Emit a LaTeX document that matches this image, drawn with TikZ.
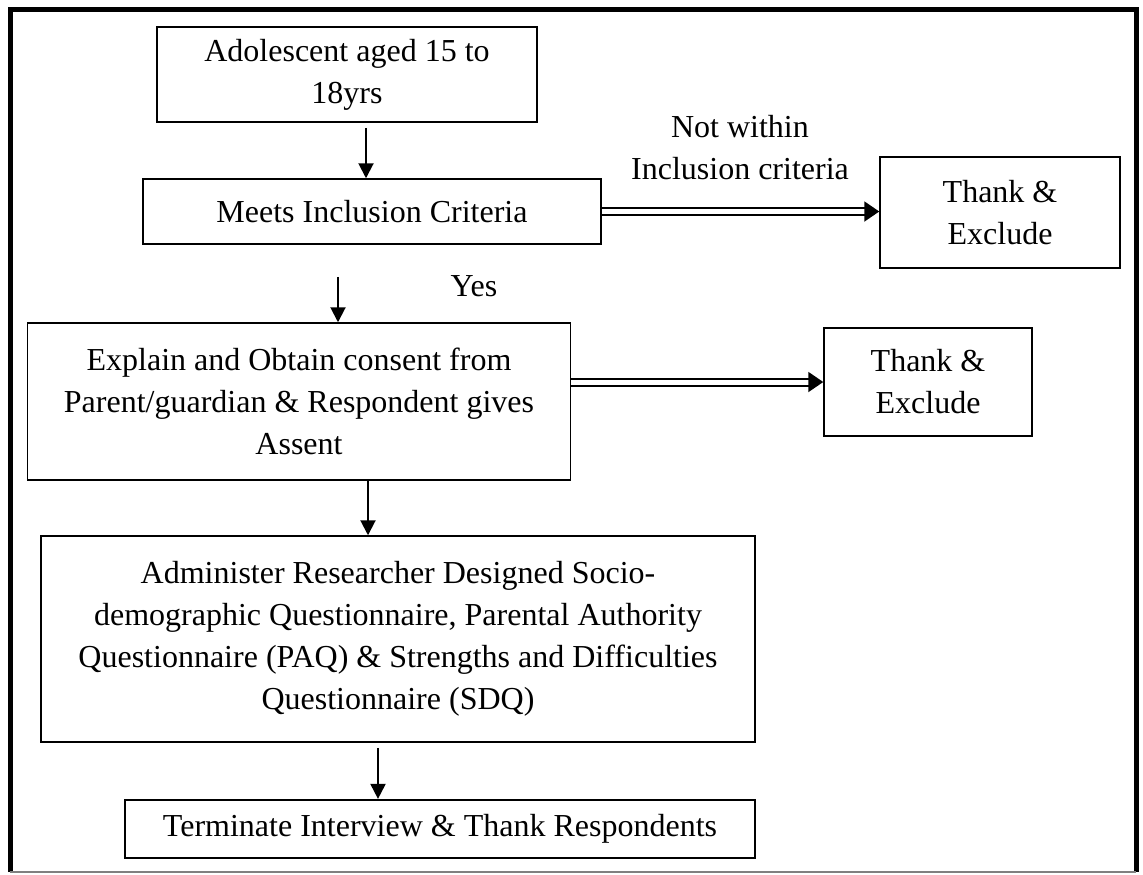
\documentclass[tikz,border=0pt]{standalone}
\usepackage{fontspec}
\setmainfont{Liberation Serif}
\usepackage{tikz}
\usetikzlibrary{calc,arrows.meta}
\newcommand{\pxu}{0.4pt}
\tikzset{box/.style={draw,line width=0.6pt,align=center,inner sep=0pt,font=\fontsize{12.8}{16.8}\selectfont},
lbl/.style={align=center,inner sep=0pt,font=\fontsize{12.8}{16.8}\selectfont},
arr/.style={line width=0.8pt,-{Triangle[length=6pt,width=6pt]}},
dbl/.style={double,line width=0.8pt,double distance=2pt,-{Triangle[length=6pt,width=8pt]}}}

\begin{document}
\begin{tikzpicture}[x=\pxu,y=-\pxu]
\useasboundingbox (0,0) rectangle (1143,874);
\draw[line width=2pt] (10,872) -- (10,9) -- (1136,9) -- (1136,872);
\draw[gray,line width=0.6pt] (10,872) -- (1136,872);
\node[box,minimum width=380*\pxu,minimum height=95*\pxu] (adol) at (347,74.5) {Adolescent aged 15 to\\18yrs};
\node[box,minimum width=458*\pxu,minimum height=65*\pxu] (meets) at (372,211.5) {Meets Inclusion Criteria};
\node[box,minimum width=240*\pxu,minimum height=111*\pxu] (thankA) at (1000,212.5) {Thank \&\\Exclude};
\node[box,minimum width=543*\pxu,minimum height=157*\pxu] (explain) at (299,401.5) {Explain and Obtain consent from\\Parent/guardian \& Respondent gives\\Assent};
\node[box,minimum width=208*\pxu,minimum height=108*\pxu] (thankB) at (928,382) {Thank \&\\Exclude};
\node[box,minimum width=714*\pxu,minimum height=206*\pxu] (admin) at (398,639) {Administer Researcher Designed Socio-\\demographic Questionnaire, Parental Authority\\Questionnaire (PAQ) \& Strengths and Difficulties\\Questionnaire (SDQ)};
\node[box,line width=0.9pt,minimum width=630*\pxu,minimum height=58*\pxu] (term) at (440,829) {Terminate Interview \& Thank Respondents};
\node[lbl] (notin) at (740,148) {Not within\\Inclusion criteria};
\node[lbl] (yes) at (474,286) {Yes};
\coordinate (s1) at ($(adol.south)+(19,5)$);
\coordinate (s2) at ($(meets.south)+(-34,32)$);
\coordinate (s3) at ($(explain.south)+(69,0)$);
\coordinate (s4) at ($(admin.south)+(-20,5)$);
\draw[arr] (s1) -- (s1 |- meets.north);
\draw[arr] (s2) -- (s2 |- explain.north);
\draw[arr] (s3) -- (s3 |- admin.north);
\draw[arr] (s4) -- (s4 |- term.north);
\draw[dbl] (meets.east) -- (meets.east -| thankA.west);
\draw[dbl] (thankB.west -| explain.east) -- (thankB.west);
\end{tikzpicture}
\end{document}
